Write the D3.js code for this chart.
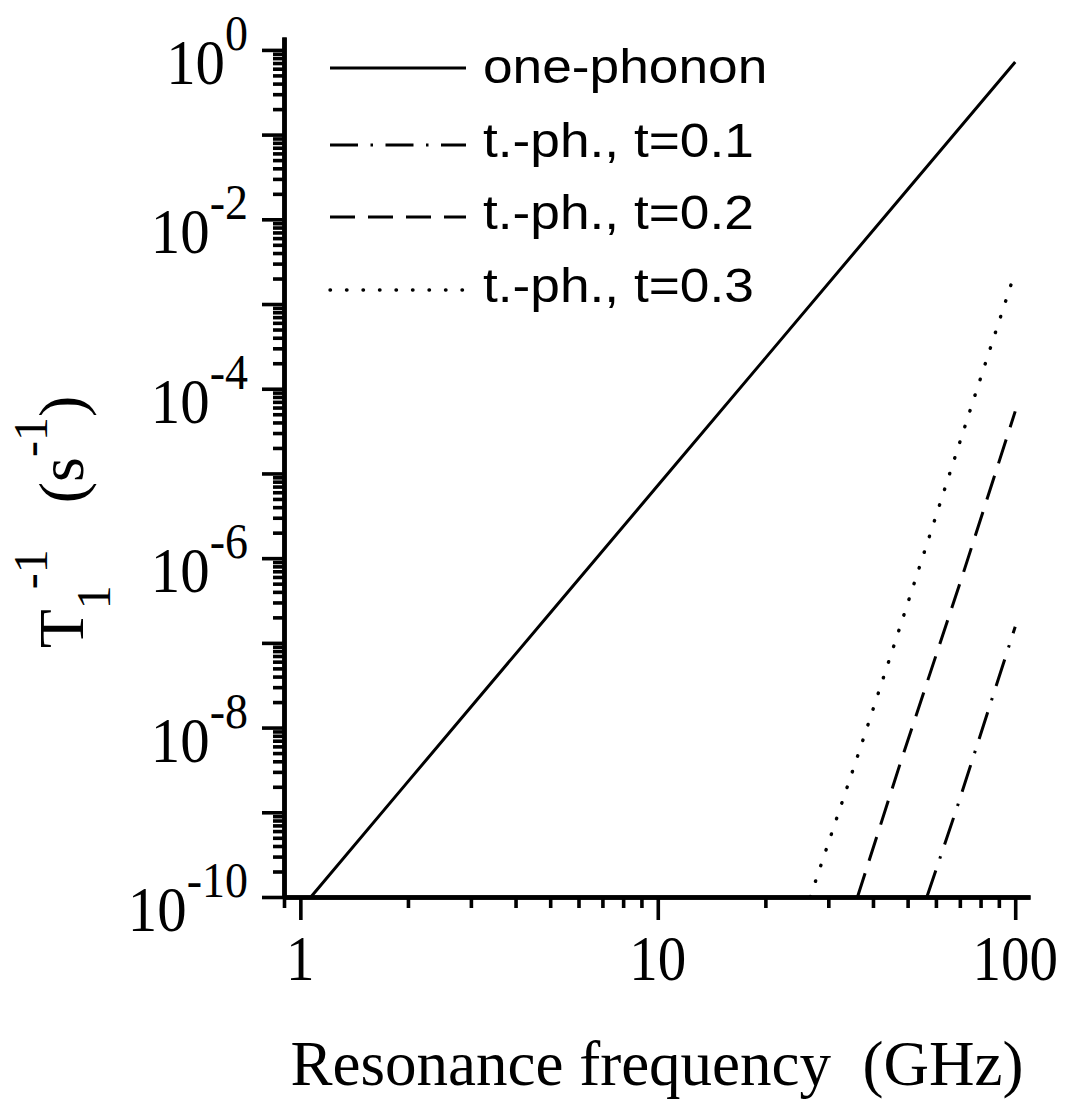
<!DOCTYPE html>
<html lang="en">
	<head>
		<meta charset="utf-8">
		<title>T1 relaxation rate vs frequency</title>
		<script type="text/javascript" src="https://d3js.org/d3.v7.min.js"></script>
		<style type="text/css">
            body{margin:0;background:#fff;}
            .serif{font-family:"Liberation Serif","Times New Roman",serif;fill:#000;}
            .sans{font-family:"Liberation Sans",Arial,sans-serif;fill:#000;}
		</style>
	</head>
	<body>
		<div id="chart1"></div>
		<script type="text/javascript">
            // values (frequency in GHz, rate in 1/s)
            var onePhononF = [1.07, 2, 5, 10, 20, 50, 100]
            var onePhononT = [1.0e-10, 2.3e-9, 2.25e-7, 7.2e-6, 2.3e-4, 2.25e-2, 0.72]
            var t01F = [56.6, 68.8, 100]
            var t01T = [1e-10, 1.15e-9, 1.55e-7]
            var t02F = [36.2, 47.7, 71, 100]
            var t02T = [1e-10, 3.8e-9, 6.0e-7, 5.4e-5]
            var t03F = [26.7, 37, 46.7, 57, 76.6, 100]
            var t03T = [1e-10, 6.0e-9, 1.2e-7, 1.6e-6, 7.6e-5, 2.4e-3]
            var seriesNames = ["one-phonon", "t.-ph., t=0.1", "t.-ph., t=0.2", "t.-ph., t=0.3"]
            var xMajorTicks = [1, 10, 100]
            var xTickLabels = ["1", "10", "100"]
            var yLabelExponents = [0, -2, -4, -6, -8, -10]

            var w = 1069
            var h = 1106
            // (window.top is read-only, so not named "top")
            var plotLeft = 284, plotRight = 1030, plotTop = 37, plotBottom = 897

            var xScale = d3.scaleLog().domain([0.9, 110]).range([plotLeft, plotRight])
            var yScale = d3.scaleLog().domain([1e-10, 1.42]).range([plotBottom, plotTop])

            var svg = d3.select("#chart1")
                        .append("svg")
                        .attr("width", w)
                        .attr("height", h)

            // tick values
            var xMinor = [0.9]
            for (var k = 2; k <= 9; k++) { xMinor.push(k); xMinor.push(k * 10) }
            var yMajor = [], yMinor = []
            for (var n = -10; n <= 0; n++) {
                yMajor.push(Math.pow(10, n))
                if (n < 0) for (var k = 2; k <= 9; k++) yMinor.push(k * Math.pow(10, n))
            }

            function styleAxis(g) {
                g.select(".domain").attr("stroke", "#000").attr("stroke-width", 4.5)
                g.selectAll(".tick line").attr("stroke", "#000").attr("stroke-width", 3.6)
                g.selectAll(".tick text").remove()
            }

            svg.append("g").attr("transform", "translate(0," + plotBottom + ")")
                .call(d3.axisBottom(xScale).tickValues(xMinor).tickSize(11).tickSizeOuter(0).tickFormat(""))
                .call(styleAxis)
            svg.append("g").attr("transform", "translate(0," + plotBottom + ")")
                .call(d3.axisBottom(xScale).tickValues(xMajorTicks).tickSize(23).tickSizeOuter(0).tickFormat(""))
                .call(styleAxis)
            svg.append("g").attr("transform", "translate(" + plotLeft + ",0)")
                .call(d3.axisLeft(yScale).tickValues(yMinor).tickSize(11).tickSizeOuter(0).tickFormat(""))
                .call(styleAxis)
            svg.append("g").attr("transform", "translate(" + plotLeft + ",0)")
                .call(d3.axisLeft(yScale).tickValues(yMajor).tickSize(22).tickSizeOuter(0).tickFormat(""))
                .call(styleAxis)

            // x tick labels
            xMajorTicks.forEach(function(v, i) {
                svg.append("g")
                    .attr("transform", "translate(" + xScale(v) + "," + (plotBottom + 83) + ") scale(0.89,1)")
                    .append("text").attr("class", "serif")
                    .attr("text-anchor", "middle")
                    .attr("font-size", 64)
                    .text(xTickLabels[i])
            })

            // y tick labels 10^n
            yLabelExponents.forEach(function(e) {
                var t = svg.append("g")
                    .attr("transform", "translate(248," + (yScale(Math.pow(10, e)) + 34) + ") scale(0.92,1)")
                    .append("text").attr("class", "serif")
                    .attr("text-anchor", "end")
                    .attr("font-size", 64)
                t.append("tspan").attr("font-size", 64).text("10")
                t.append("tspan").attr("dy", -34).attr("font-size", 50).text(e)
            })

            // axis titles
            svg.append("text").attr("class", "serif")
                .attr("x", 657).attr("y", 1085)
                .attr("text-anchor", "middle")
                .attr("font-size", 63)
                .style("white-space", "pre")
                .text("Resonance frequency  (GHz)")

            var yt = svg.append("g")
                .attr("transform", "translate(83,522) rotate(-90)")
                .append("text").attr("class", "serif")
                .attr("text-anchor", "middle")
                .attr("font-size", 64)
                .style("white-space", "pre")
            yt.append("tspan").attr("font-size", 64).text("T")
            yt.append("tspan").attr("dy", 27).attr("font-size", 48).text("1")
            yt.append("tspan").attr("dy", -63).attr("dx", -4).attr("font-size", 48).text("-1")
            yt.append("tspan").attr("dy", 36).attr("dx", 14).attr("font-size", 64).text("  (s")
            yt.append("tspan").attr("dy", -36).attr("font-size", 48).text("-1")
            yt.append("tspan").attr("dy", 36).attr("font-size", 64).text(")")

            // curves
            var series = [
                {f: onePhononF, t: onePhononT, dash: null, cap: "butt"},
                {f: t01F, t: t01T, dash: "28,12.5,2.5,12.5", cap: "butt"},
                {f: t02F, t: t02T, dash: "25,13", cap: "butt"},
                {f: t03F, t: t03T, dash: "0.5,16", cap: "round"}
            ]
            var line = d3.line()
                .x(function(d){ return xScale(d[0]) })
                .y(function(d){ return yScale(d[1]) })

            series.forEach(function(s) {
                svg.append("path")
                    .datum(d3.zip(s.f, s.t))
                    .attr("d", line)
                    .attr("fill", "none")
                    .attr("stroke", "#000")
                    .attr("stroke-width", s.cap == "round" ? 3.4 : 3)
                    .attr("stroke-linecap", s.cap)
                    .attr("stroke-dasharray", s.dash)
            })

            // legend
            var legendLineY = [68, 145, 217, 290]
            var legendBase = [83, 157, 229, 302]
            series.forEach(function(s, i) {
                svg.append("line")
                    .attr("x1", 330).attr("x2", 466)
                    .attr("y1", legendLineY[i]).attr("y2", legendLineY[i])
                    .attr("stroke", "#000")
                    .attr("stroke-width", s.cap == "round" ? 3.4 : 3)
                    .attr("stroke-linecap", s.cap)
                    .attr("stroke-dasharray", s.dash)
                svg.append("g")
                    .attr("transform", "translate(483," + legendBase[i] + ") scale(1.11,1)")
                    .append("text").attr("class", "sans")
                    .attr("font-size", 48)
                    .text(seriesNames[i])
            })
        </script>
	</body>
</html>
